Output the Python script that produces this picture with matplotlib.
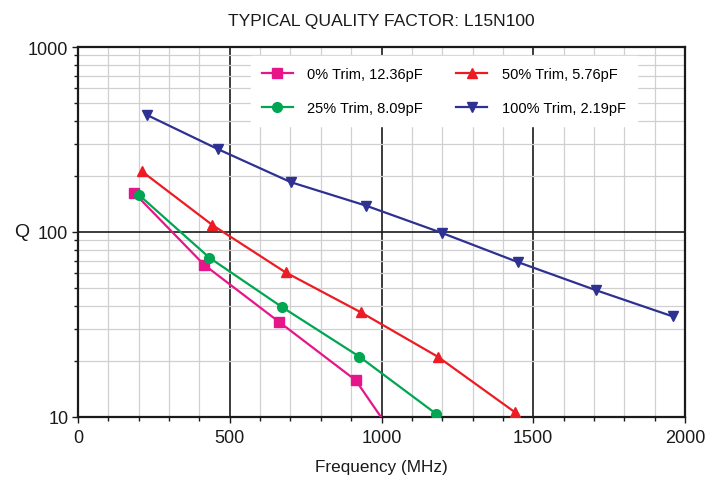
import matplotlib
matplotlib.use("Agg")
import matplotlib.pyplot as plt
from matplotlib.ticker import MultipleLocator, LogLocator, NullFormatter, FixedLocator

plt.rcParams["font.family"] = ["Liberation Sans", "DejaVu Sans"]

freq_0 = [186, 415, 662, 915, 1165]
q_0 = [162, 66.6, 32.7, 15.8, 4.0]
freq_25 = [202, 433, 673, 927, 1180]
q_25 = [158, 72.6, 39.2, 21.2, 10.4]
freq_50 = [210, 443, 684, 932, 1185, 1440]
q_50 = [213, 109, 60.5, 36.8, 21.2, 10.6]
freq_100 = [226, 460, 701, 948, 1198, 1451, 1706, 1959]
q_100 = [430, 281, 186, 139, 99, 68.6, 48.5, 35.0]

labels = ["0% Trim, 12.36pF", "25% Trim, 8.09pF", "50% Trim, 5.76pF", "100% Trim, 2.19pF"]
x_ticks = [0, 500, 1000, 1500, 2000]
y_ticks = [10, 100, 1000]

fig = plt.figure(figsize=(7.05, 4.81), dpi=100)
ax = fig.add_axes([78/705, 63/481, 607/705, 370/481])

series = [
    (freq_0, q_0, "#E6168A", "s"),
    (freq_25, q_25, "#00A651", "o"),
    (freq_50, q_50, "#ED1C24", "^"),
    (freq_100, q_100, "#2E3192", "v"),
]
for (f, q, c, m), lab in zip(series, labels):
    ax.plot(f, q, color=c, marker=m, markersize=7, linewidth=1.6, label=lab, zorder=3)

ax.set_yscale("log")
ax.set_xlim(0, 2000)
ax.set_ylim(10, 1000)
ax.xaxis.set_major_locator(FixedLocator(x_ticks))
ax.xaxis.set_minor_locator(MultipleLocator(100))
ax.yaxis.set_major_locator(FixedLocator(y_ticks))
ax.yaxis.set_minor_locator(LogLocator(base=10, subs=range(2, 10)))
ax.yaxis.set_minor_formatter(NullFormatter())
ax.set_yticklabels([str(v) for v in y_ticks])
ax.set_xticklabels([str(v) for v in x_ticks])

ax.grid(which="minor", color="#d0d0d0", linewidth=0.9)
ax.grid(which="major", color="#1a1a1a", linewidth=1.2)
ax.set_axisbelow(True)
for s in ax.spines.values():
    s.set_linewidth(1.6)
    s.set_color("#1a1a1a")
ax.tick_params(which="both", direction="out", length=4, width=1.0, labelsize=13, colors="#1a1a1a", pad=3)
ax.tick_params(axis="x", which="both", pad=5)
ax.tick_params(which="minor", length=3)

ax.set_title("TYPICAL QUALITY FACTOR: L15N100", fontsize=12.6, pad=16, color="#1a1a1a")
ax.set_xlabel("Frequency (MHz)", fontsize=12.3, color="#1a1a1a", labelpad=9)
ax.set_ylabel("Q", fontsize=14, rotation=0, color="#1a1a1a", va="center", ha="center")
ax.yaxis.set_label_coords(-0.092, 0.5)

leg = ax.legend(ncol=2, loc="upper left", bbox_to_anchor=(0.285, 0.976),
                frameon=True, fontsize=10.5, fancybox=False,
                handlelength=2.1, handletextpad=1.0, borderpad=0.75,
                labelspacing=1.4, columnspacing=2.3, borderaxespad=0)
leg.get_frame().set_edgecolor("white")
leg.get_frame().set_facecolor("white")
leg.get_frame().set_alpha(1.0)

fig.savefig("out.png", dpi=100)
